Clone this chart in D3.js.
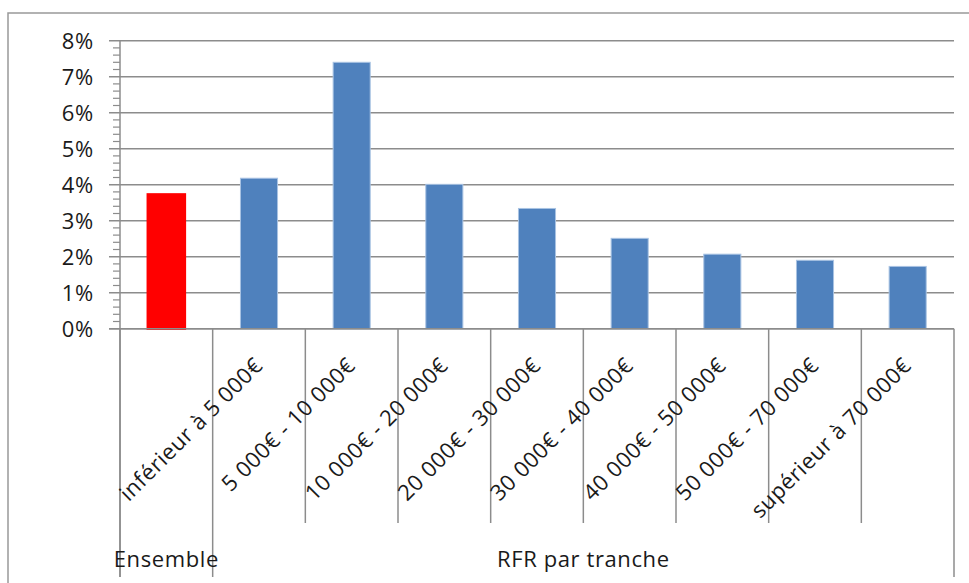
<!DOCTYPE html>
<html>
<head>
<meta charset="utf-8">
<script src="https://cdn.jsdelivr.net/npm/d3@7"></script>
<style>
  html, body { margin: 0; padding: 0; background: #fff; }
  svg { display: block; }
  text { font-family: "Open Sans", "Liberation Sans", sans-serif; fill: #1a1a1a; }
</style>
</head>
<body>
<svg id="chart" width="969" height="583"></svg>
<script>
// ---- data ----
const categories = ["", "inférieur à 5 000€", "5 000€ - 10 000€", "10 000€ - 20 000€",
  "20 000€ - 30 000€", "30 000€ - 40 000€", "40 000€ - 50 000€", "50 000€ - 70 000€", "supérieur à 70 000€"];
const values = [3.73, 4.18, 7.40, 4.01, 3.34, 2.51, 2.07, 1.90, 1.73];
const groups = ["Ensemble", "RFR par tranche"];
const groupSizes = [1, 8];
const yTicks = [0, 1, 2, 3, 4, 5, 6, 7, 8];
const barColors = ["#FF0000", "#4F81BD", "#4F81BD", "#4F81BD", "#4F81BD", "#4F81BD", "#4F81BD", "#4F81BD", "#4F81BD"];

// ---- layout ----
const svg = d3.select("#chart");
const pLeft = 120, pRight = 954, pTop = 40.7, pBottom = 328.7;
const gridColor = "#8c8c8c";

// outer frame
svg.append("rect").attr("x", 8).attr("y", 13).attr("width", 1100).attr("height", 1100)
  .attr("fill", "none").attr("stroke", "#999").attr("stroke-width", 1.5);

const x = d3.scaleBand().domain(d3.range(categories.length)).range([pLeft, pRight])
  .paddingInner(0.6).paddingOuter(0.3);
const xb = d3.scaleBand().domain(d3.range(categories.length)).range([pLeft, pRight]).padding(0);
const y = d3.scaleLinear().domain([0, 8]).range([pBottom, pTop]);

// gridlines
svg.append("g").selectAll("line").data(yTicks).join("line")
  .attr("x1", 109).attr("x2", pRight)
  .attr("y1", d => y(d)).attr("y2", d => y(d))
  .attr("stroke", gridColor).attr("stroke-width", 1.5);

// minor ticks
const minor = d3.range(0, 8.001, 0.2).filter(v => Math.abs(v - Math.round(v)) > 1e-6);
svg.append("g").selectAll("line").data(minor).join("line")
  .attr("x1", 113).attr("x2", pLeft)
  .attr("y1", d => y(d)).attr("y2", d => y(d))
  .attr("stroke", gridColor).attr("stroke-width", 1.2);

// y axis line
svg.append("line").attr("x1", pLeft).attr("x2", pLeft).attr("y1", pTop).attr("y2", 577)
  .attr("stroke", gridColor).attr("stroke-width", 1.5);

// y labels
svg.append("g").selectAll("text").data(yTicks).join("text")
  .attr("x", 94).attr("y", d => y(d)).attr("dy", "0.36em")
  .attr("text-anchor", "end").attr("font-size", 22).attr("letter-spacing", 0.8)
  .text(d => d + "%");

// bars
svg.append("g").selectAll("rect").data(values).join("rect")
  .attr("x", (d, i) => x(i)).attr("width", x.bandwidth())
  .attr("y", d => y(d)).attr("height", d => y(0) - y(d))
  .attr("fill", (d, i) => barColors[i])
  .attr("stroke", (d, i) => i === 0 ? "#FF0000" : "#a9c3e3")
  .attr("stroke-width", (d, i) => i === 0 ? 2.5 : 1);

// category dividers
const groupBounds = [0];
groupSizes.forEach(s => groupBounds.push(groupBounds[groupBounds.length - 1] + s));
const divs = d3.range(categories.length + 1);
svg.append("g").selectAll("line").data(divs).join("line")
  .attr("x1", i => i < categories.length ? xb(i) : pRight)
  .attr("x2", i => i < categories.length ? xb(i) : pRight)
  .attr("y1", pBottom)
  .attr("y2", i => groupBounds.includes(i) ? 577 : 523)
  .attr("stroke", gridColor).attr("stroke-width", 1.5);

// x axis line
svg.append("line").attr("x1", 109).attr("x2", pRight).attr("y1", pBottom).attr("y2", pBottom)
  .attr("stroke", gridColor).attr("stroke-width", 1.5);

// category labels (rotated)
svg.append("g").selectAll("text").data(categories).join("text")
  .attr("transform", (d, i) => `translate(${xb(i) + xb.bandwidth() / 2 + 5},367) rotate(-45)`)
  .attr("text-anchor", "end").attr("font-size", 22).attr("letter-spacing", 0.6)
  .text(d => d);

// group labels
svg.append("g").selectAll("text").data(groups).join("text")
  .attr("x", (d, i) => (xb(groupBounds[i]) + (groupBounds[i + 1] < categories.length ? xb(groupBounds[i + 1]) : pRight)) / 2)
  .attr("y", 567).attr("text-anchor", "middle").attr("font-size", 22).attr("letter-spacing", 0.6)
  .text(d => d);
</script>
</body>
</html>
